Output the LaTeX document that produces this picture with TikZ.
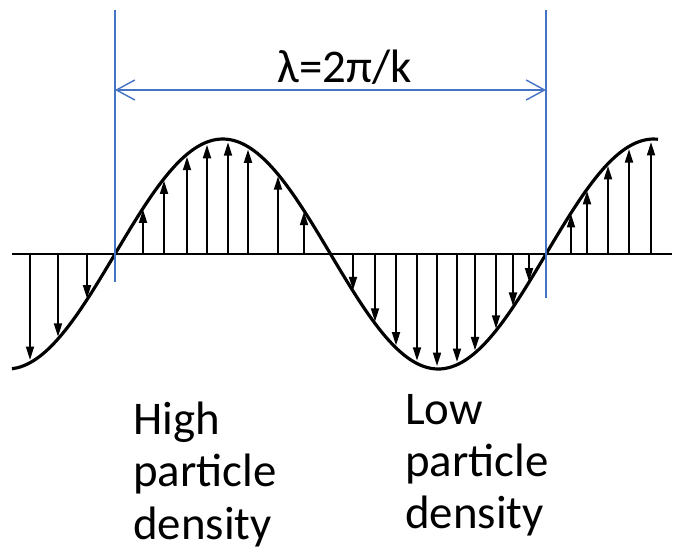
\documentclass[tikz,border=0pt]{standalone}
\usepackage{fontspec}
\setmainfont{Carlito}
\usetikzlibrary{arrows.meta, positioning}
\definecolor{dimblue}{RGB}{68,114,196}

\begin{document}
\begin{tikzpicture}[x=0.03cm, y=-0.03cm,
        wave/.style={line width=2.7pt, line join=round},
        vec/.style={line width=1.5pt, -{Triangle[length=0.4cm, width=0.24cm]}},
        dim/.style={dimblue, line width=1.2pt},
        lbl/.style={font=\fontsize{40pt}{44.5pt}\selectfont, inner sep=0pt, align=left}]
    \useasboundingbox (0,0) rectangle (675,554);

    % axis
    \draw[line width=1.8pt] (12,254) -- (672,254);

    % displacement arrows
    \foreach \x in {30,58,87,143,164,187,207,228,248,278,304,353,375,396,417,437,457,475,496,513,529,571,587,608,629,651}
        \draw[vec] (\x,254) -- (\x,{254-112*sin((\x-115)/431*360)});

    % wave
    \draw[wave, domain=12:658, samples=120, smooth] plot (\x,{254-115*sin((\x-115)/431*360)});

    % wavelength
    \coordinate (topL) at (115,10);
    \coordinate (botL) at (115,282);
    \coordinate (topR) at (546,10);
    \coordinate (botR) at (546,298);
    \coordinate (dimL) at (115,90);
    \coordinate (dimR) at (546,90);
    \draw[dim] (topL) -- (botL);
    \draw[dim] (topR) -- (botR);
    \draw[dim, {Straight Barb[length=0.55cm, width=0.6cm]}-{Straight Barb[length=0.55cm, width=0.6cm]}] (dimL) -- (dimR);
    \node[lbl, anchor=base] (lam) at (345,82) {λ=2π/k};

    % densities
    \node[lbl, anchor=north west] (high) at (133,402) {High\\particle\\density};
    \node[lbl, anchor=north west] (low) at (405,394) {Low\\particle\\density};
\end{tikzpicture}
\end{document}
